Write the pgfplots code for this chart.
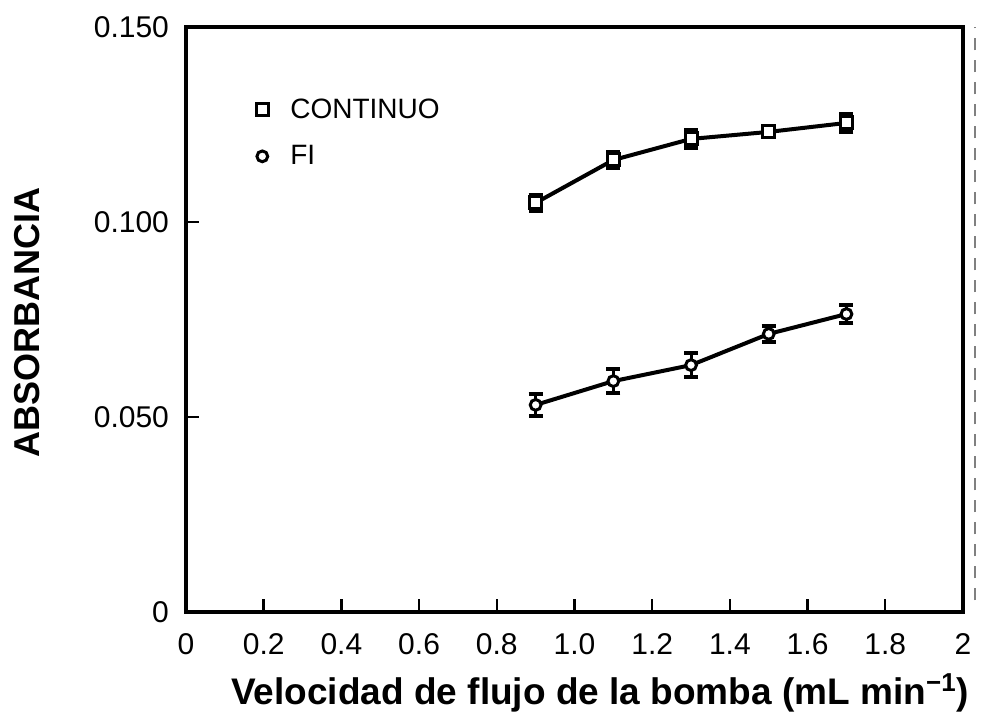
\documentclass[border=0pt]{standalone}
\usepackage{fontspec}
\setmainfont{Liberation Sans}
\usepackage{pgfplots}
\pgfplotsset{compat=1.18}

\begin{document}
\begin{tikzpicture}
\begin{axis}[
    scale only axis,
    width=388.5pt, height=292.5pt,
    xmin=0, xmax=2,
    ymin=0, ymax=0.150,
    axis line style={line width=1.6pt},
    tick style={line width=1.2pt, black},
    tick align=inside,
    major tick length=6.5pt,
    xtick pos=bottom, ytick pos=left,
    xtick={0,0.2,0.4,0.6,0.8,1.0,1.2,1.4,1.6,1.8,2},
    xticklabels={0,0.2,0.4,0.6,0.8,1.0,1.2,1.4,1.6,1.8,2},
    ytick={0,0.05,0.1,0.15},
    yticklabels={0,0.050,0.100,0.150},
    /pgf/number format/assume math mode=true,
    ticklabel style={font=\fontsize{15}{17}\selectfont},
    xticklabel style={text height=11pt, text depth=0pt, yshift=-6.5pt},
    yticklabel style={xshift=-5pt},
    xlabel={\textbf{Velocidad de flujo de la bomba (mL min\textsuperscript{−1})}},
    ylabel={\textbf{ABSORBANCIA}},
    xlabel style={font=\fontsize{18.5}{20}\selectfont, at={(axis description cs:0.533,-0.1385)}, anchor=center},
    ylabel style={font=\fontsize{18}{20}\selectfont, at={(axis description cs:-0.205,0.495)}, anchor=center},
    legend style={draw=none, fill=none, at={(0.09,0.885)}, anchor=north west,
        font=\fontsize{14}{16}\selectfont, row sep=8pt, column sep=9pt, inner sep=0pt},
    legend cell align=left,
    clip=false,
]
\addlegendimage{only marks, mark=square*, mark size=3pt, mark options={fill=white, draw=black, line width=1.5pt}}
\addlegendentry{CONTINUO}
\addlegendimage{only marks, mark=o, mark size=2.7pt, mark options={fill=white, draw=black, line width=1.5pt}}
\addlegendentry{FI}

% CONTINUO
\addplot[forget plot, black, line width=2pt, mark=square*, mark size=3pt,
    mark options={fill=white, draw=black, line width=1.5pt},
    error bars/.cd, y dir=both, y explicit,
    error bar style={line width=2pt}, error mark options={rotate=90, mark size=3.5pt, line width=2pt}]
    coordinates {
    (0.9,0.1049) +- (0,0.0020)
    (1.1,0.1159) +- (0,0.0020)
    (1.3,0.1213) +- (0,0.0022)
    (1.5,0.1231) +- (0,0.0005)
    (1.7,0.1254) +- (0,0.0023)
    };

% FI
\addplot[forget plot, black, line width=2pt, mark=*, mark size=2.7pt,
    mark options={fill=white, draw=black, line width=1.5pt},
    error bars/.cd, y dir=both, y explicit,
    error bar style={line width=1.5pt}, error mark options={rotate=90, mark size=3.5pt, line width=2pt}]
    coordinates {
    (0.9,0.0531) +- (0,0.0029)
    (1.1,0.0592) +- (0,0.0030)
    (1.3,0.0633) +- (0,0.0030)
    (1.5,0.0713) +- (0,0.0020)
    (1.7,0.0764) +- (0,0.0022)
    };

% scan edge at the right
\draw[gray, line width=0.6pt, dash pattern=on 6pt off 5pt]
    (rel axis cs:1.0155,0.02) -- (rel axis cs:1.0155,1.0);
\end{axis}
\pgfresetboundingbox
\path[use as bounding box]
    ([shift={(-93pt,-57.5pt)}]current axis.south west) rectangle
    ([shift={(9pt,13.5pt)}]current axis.north east);
\end{tikzpicture}
\end{document}
